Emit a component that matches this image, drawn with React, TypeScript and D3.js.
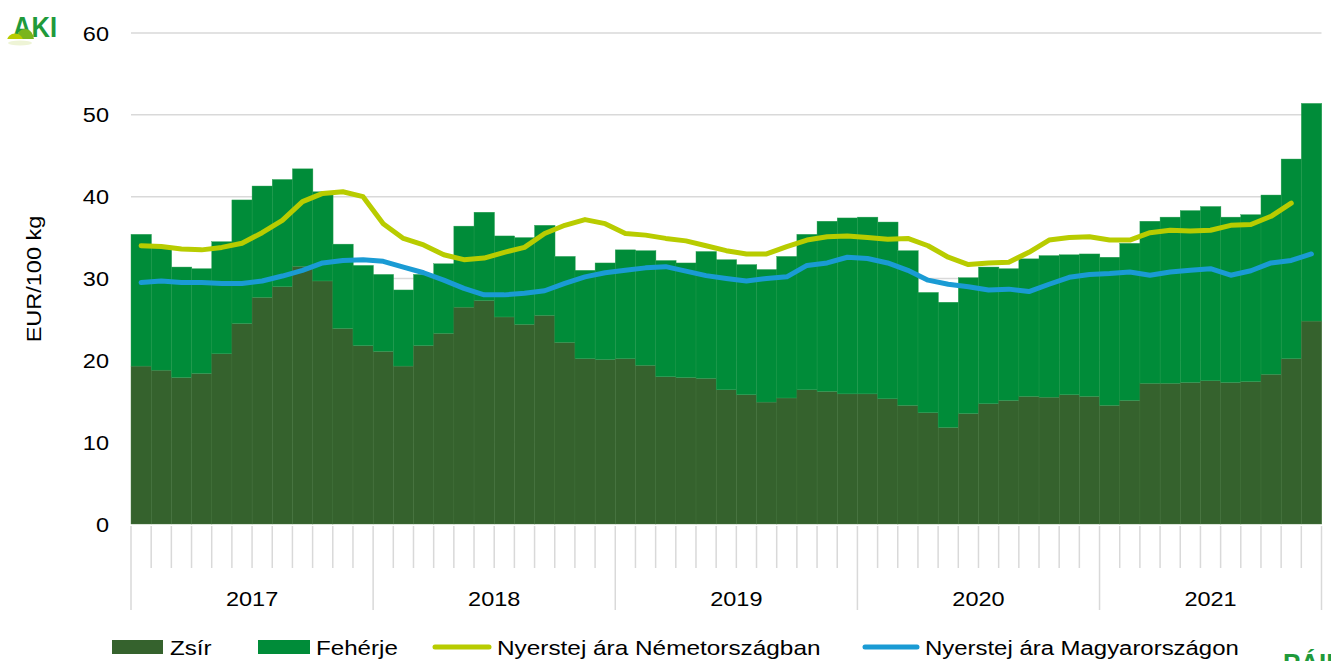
import React from 'react';
import * as d3 from 'd3';

const years = ['2017', '2018', '2019', '2020', '2021'];
const monthsPerYear = [12, 12, 12, 12, 11];

// Zsír (fat) component, EUR/100 kg
const zsir = [
  19.3, 18.8, 17.9, 18.4, 20.8, 24.5, 27.7, 29.0, 31.5, 29.7, 23.9, 21.8,
  21.1, 19.3, 21.8, 23.3, 26.5, 27.3, 25.3, 24.4, 25.5, 22.2, 20.2, 20.1,
  20.2, 19.4, 18.0, 17.9, 17.8, 16.4, 15.8, 14.9, 15.4, 16.4, 16.2, 15.9,
  15.9, 15.3, 14.5, 13.6, 11.8, 13.5, 14.7, 15.1, 15.6, 15.5, 15.8, 15.6,
  14.5, 15.1, 17.2, 17.2, 17.3, 17.5, 17.3, 17.4, 18.3, 20.2, 24.8,
];

// Fehérje (protein) component, EUR/100 kg
const feherje = [
  16.1, 15.0, 13.5, 12.8, 13.7, 15.1, 13.6, 13.1, 11.9, 10.9, 10.3, 9.8,
  9.4, 9.3, 8.7, 8.5, 9.9, 10.8, 9.9, 10.6, 11.0, 10.5, 10.8, 11.8,
  13.3, 14.0, 14.2, 14.0, 15.5, 15.9, 15.9, 16.2, 17.3, 19.0, 20.8, 21.5,
  21.6, 21.6, 18.9, 14.7, 15.3, 16.6, 16.7, 16.1, 16.8, 17.3, 17.1, 17.4,
  18.1, 19.2, 19.8, 20.3, 21.0, 21.3, 20.2, 20.4, 21.9, 24.4, 26.6,
];

// Nyerstej ára Németországban
const germany = [
  34.0, 33.9, 33.6, 33.5, 33.8, 34.3, 35.6, 37.1, 39.4, 40.4, 40.6, 40.0,
  36.7, 34.9, 34.1, 32.9, 32.3, 32.5, 33.2, 33.8, 35.5, 36.5, 37.2, 36.7,
  35.5, 35.3, 34.9, 34.6, 34.0, 33.4, 33.0, 33.0, 33.9, 34.7, 35.1, 35.2,
  35.0, 34.8, 34.9, 34.0, 32.6, 31.7, 31.9, 32.0, 33.2, 34.7, 35.0, 35.1,
  34.7, 34.7, 35.6, 35.9, 35.8, 35.9, 36.5, 36.6, 37.6, 39.2, null,
];

// Nyerstej ára Magyarországon
const hungary = [
  29.5, 29.7, 29.5, 29.5, 29.4, 29.4, 29.7, 30.3, 31.0, 31.9, 32.2, 32.3,
  32.1, 31.4, 30.7, 29.8, 28.8, 28.0, 28.0, 28.2, 28.5, 29.4, 30.2, 30.7,
  31.0, 31.3, 31.45, 30.9, 30.35, 30.0, 29.7, 30.0, 30.2, 31.6, 31.9, 32.6,
  32.45, 31.9, 31.0, 29.8, 29.3, 29.0, 28.6, 28.7, 28.4, 29.3, 30.15, 30.5,
  30.6, 30.8, 30.4, 30.8, 31.0, 31.2, 30.4, 30.95, 31.9, 32.2, 33.0,
];

const yTicks = [0, 10, 20, 30, 40, 50, 60];

const C_ZSIR = '#35622d';
const C_FEH = '#008c39';
const C_DE = '#b8cc00';
const C_HU = '#1a9bd4';
const GRID = '#d9d9d9';
const FONT = 'Arial, "Liberation Sans", sans-serif';

const W = 1331;
const H = 661;
const left = 131;
const right = 1321.5;
const top = 33;
const bottom = 524;

// the source font runs a bit wider than Arial, so stretch text horizontally
const SX = 1.12;

function T({ x, y, anchor = 'start', size = 21, sx = SX, rotate = 0, children }: any) {
  return (
    <text
      transform={`translate(${x},${y}) rotate(${rotate}) scale(${sx},1)`}
      textAnchor={anchor}
      fontFamily={FONT}
      fontSize={size}
      fill="#000"
    >
      {children}
    </text>
  );
}

export default function App() {
  const months = zsir.map((_, i) => i);
  const x = d3.scaleBand<number>().domain(months).range([left, right]).padding(0);
  const y = d3.scaleLinear().domain([0, 60]).range([bottom, top]);
  const bw = x.bandwidth();

  const line = d3
    .line<number | null>()
    .defined((d) => d != null)
    .x((_, i) => (x(i) as number) + bw / 2)
    .y((d) => y(d as number));

  let acc = 0;
  const yearSpans = years.map((yr, k) => {
    const s = acc;
    acc += monthsPerYear[k];
    return { yr, s, e: acc };
  });

  const bx = (i: number) => (i >= zsir.length ? right : (x(i) as number));

  return (
    <svg width={W} height={H} style={{ display: 'block', position: 'absolute', left: 0, top: 0 }}>
      <defs>
        <clipPath id="logoClip">
          <rect x={0} y={0} width={70} height={39} />
        </clipPath>
      </defs>
      <rect width={W} height={H} fill="#fff" />

      {yTicks.map((t) => (
        <g key={t}>
          {t > 0 && <line x1={left} x2={right} y1={y(t)} y2={y(t)} stroke={GRID} strokeWidth={1.5} />}
          <T x={109} y={y(t) + 7.5} anchor="end">{t}</T>
        </g>
      ))}

      {months.map((i) => (
        <g key={i}>
          <rect x={x(i)} y={y(zsir[i])} width={bw + 0.3} height={bottom - y(zsir[i])} fill={C_ZSIR} stroke="#4c7a44" strokeWidth={0.4} />
          <rect
            x={x(i)}
            y={y(zsir[i] + feherje[i])}
            width={bw + 0.3}
            height={y(zsir[i]) - y(zsir[i] + feherje[i])}
            fill={C_FEH}
            stroke="#2da055"
            strokeWidth={0.4}
          />
        </g>
      ))}

      <path d={line(germany) || ''} fill="none" stroke={C_DE} strokeWidth={5} strokeLinejoin="round" strokeLinecap="round" />
      <path d={line(hungary) || ''} fill="none" stroke={C_HU} strokeWidth={5} strokeLinejoin="round" strokeLinecap="round" />

      {d3.range(zsir.length + 1).map((i) => {
        const isYear = yearSpans.some((s) => s.s === i) || i === zsir.length;
        return (
          <line key={i} x1={bx(i)} x2={bx(i)} y1={bottom + 2} y2={isYear ? 610 : 568} stroke={GRID} strokeWidth={1.5} />
        );
      })}
      {yearSpans.map((s) => (
        <T key={s.yr} x={(bx(s.s) + bx(s.e)) / 2} y={606} anchor="middle">{s.yr}</T>
      ))}

      <T x={41} y={279} anchor="middle" rotate={-90}>EUR/100 kg</T>

      <rect x={112} y={640} width={51} height={14} fill={C_ZSIR} />
      <T x={170} y={655} sx={1.15}>Zsír</T>
      <rect x={258} y={640} width={52} height={14} fill={C_FEH} />
      <T x={316} y={655} sx={1.15}>Fehérje</T>
      <line x1={435} x2={489} y1={647} y2={647} stroke={C_DE} strokeWidth={5} strokeLinecap="round" />
      <T x={497} y={655} sx={1.16}>Nyerstej ára Németországban</T>
      <line x1={865} x2={917} y1={647} y2={647} stroke={C_HU} strokeWidth={5} strokeLinecap="round" />
      <T x={925} y={655} sx={1.14}>Nyerstej ára Magyarországon</T>

      {/* AKI logo */}
      <g clipPath="url(#logoClip)">
        <text x={13} y={37} fontFamily={FONT} fontWeight="bold" fontSize={29} fill="#1f9a3b" textLength={44} lengthAdjust="spacingAndGlyphs">
          AKI
        </text>
        <ellipse cx={25} cy={40} rx={9} ry={11} fill="#7ab51d" />
        <ellipse cx={15} cy={41} rx={8} ry={7.5} fill="#b8cc00" />
      </g>
      <ellipse cx={20} cy={43} rx={12} ry={2.5} fill="#eef4d6" />

      <text x={1283} y={672} fontFamily={FONT} fontWeight="bold" fontSize={26} fill="#1f9a3b">
        PÁIR
      </text>
    </svg>
  );
}
